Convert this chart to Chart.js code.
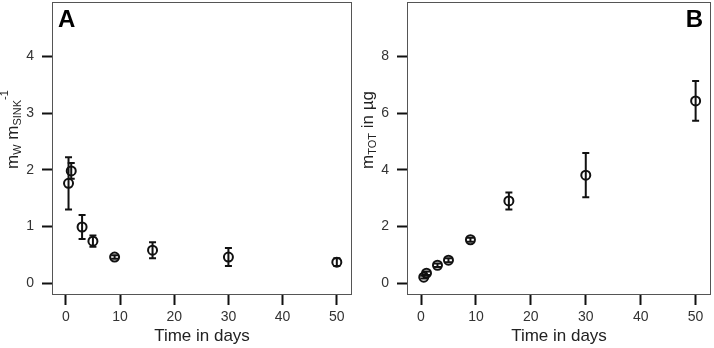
<!DOCTYPE html>
<html>
<head>
<meta charset="utf-8">
<script src="https://cdn.jsdelivr.net/npm/chart.js@4"></script>
<style>
  body { margin: 0; background: #fff; }
  #wrap { position: relative; width: 714px; height: 348px; }
  #chartA { position: absolute; left: 0; top: 0; }
  #chartB { position: absolute; left: 355px; top: 0; }
</style>
</head>
<body>
<div id="wrap">
  <canvas id="chartA" width="357" height="348"></canvas>
  <canvas id="chartB" width="359" height="348"></canvas>
</div>
<script>
const days = [0.5, 1, 3, 5, 9, 16, 30, 50];

const ratioA = [1.76, 1.98, 0.99, 0.74, 0.46, 0.58, 0.46, 0.37];
const ratioErrA = [0.46, 0.14, 0.21, 0.1, 0.03, 0.14, 0.16, 0.07];

const massB = [0.21, 0.35, 0.63, 0.81, 1.53, 2.9, 3.81, 6.43];
const massErrB = [0.05, 0.06, 0.06, 0.07, 0.07, 0.3, 0.78, 0.7];

const xTicks = [0, 10, 20, 30, 40, 50];
const yTicksA = [0, 1, 2, 3, 4];
const yTicksB = [0, 2, 4, 6, 8];

const fontFamily = "'Liberation Sans', Arial, Helvetica, sans-serif";
const markColor = "#111";

function toPoints(xs, ys) {
  return xs.map((x, i) => ({ x: x, y: ys[i] }));
}

function noPadding(s) {
  s.paddingTop = 0;
  s.paddingBottom = 0;
  s.paddingLeft = 0;
  s.paddingRight = 0;
}

// error bars drawn over the markers, line goes through the circle
function errorBarPlugin(errs) {
  return {
    id: "errorBars",
    afterDatasetsDraw(chart) {
      const ctx = chart.ctx;
      const xs = chart.scales.x;
      const ys = chart.scales.y;
      const data = chart.data.datasets[0].data;
      ctx.save();
      ctx.strokeStyle = markColor;
      ctx.lineWidth = 2;
      data.forEach((p, i) => {
        const px = xs.getPixelForValue(p.x);
        const top = ys.getPixelForValue(p.y + errs[i]);
        const bot = ys.getPixelForValue(p.y - errs[i]);
        ctx.beginPath();
        ctx.moveTo(px, top);
        ctx.lineTo(px, bot);
        ctx.moveTo(px - 3.5, top);
        ctx.lineTo(px + 3.5, top);
        ctx.moveTo(px - 3.5, bot);
        ctx.lineTo(px + 3.5, bot);
        ctx.stroke();
      });
      ctx.restore();
    },
  };
}

// frame, panel letter and the y title with sub/superscripts
function decorPlugin(letter, letterRight, titleParts) {
  return {
    id: "decor",
    afterDraw(chart) {
      const ctx = chart.ctx;
      const a = chart.chartArea;
      ctx.save();
      ctx.strokeStyle = "#555";
      ctx.lineWidth = 1;
      ctx.strokeRect(a.left + 0.5, a.top + 0.5, a.right - a.left - 1, a.bottom - a.top - 1);

      ctx.fillStyle = "#000";
      ctx.font = "bold 24px " + fontFamily;
      ctx.textBaseline = "alphabetic";
      if (letterRight) {
        ctx.textAlign = "right";
        ctx.fillText(letter, a.right - 8, 27);
      } else {
        ctx.textAlign = "left";
        ctx.fillText(letter, a.left + 6, 27);
      }

      ctx.translate(17.5, 169);
      ctx.rotate(-Math.PI / 2);
      ctx.textAlign = "left";
      ctx.fillStyle = "#222";
      let pos = 0;
      titleParts.forEach((part) => {
        ctx.font = part.size + "px " + fontFamily;
        ctx.fillText(part.text, pos, part.dy);
        pos += ctx.measureText(part.text).width;
      });
      ctx.restore();
    },
  };
}

function makeChart(id, values, errs, yTicks, yMin, yMax, rightPad, letter, letterRight, titleParts) {
  return new Chart(document.getElementById(id), {
    type: "scatter",
    data: {
      datasets: [
        {
          data: toPoints(days, values),
          pointStyle: "circle",
          pointRadius: 4.5,
          pointBorderWidth: 2,
          pointBorderColor: markColor,
          pointBackgroundColor: "rgba(0,0,0,0)",
        },
      ],
    },
    options: {
      responsive: false,
      animation: false,
      events: [],
      layout: { autoPadding: false, padding: { top: 2, right: rightPad, bottom: 0, left: 0 } },
      plugins: { legend: { display: false }, tooltip: { enabled: false } },
      scales: {
        x: {
          type: "linear",
          min: -2.55,
          max: 52.8,
          afterBuildTicks: (s) => { s.ticks = xTicks.map((v) => ({ value: v })); },
          afterFit: (s) => { s.height = 53; noPadding(s); },
          border: { display: false },
          grid: { drawOnChartArea: false, tickLength: 10, tickWidth: 2, tickColor: markColor },
          ticks: { padding: 4, color: "#333", font: { family: fontFamily, size: 14 } },
          title: {
            display: true,
            text: "Time in days",
            color: "#222",
            font: { family: fontFamily, size: 17 },
            padding: { top: 0, bottom: 1 },
          },
        },
        y: {
          type: "linear",
          min: yMin,
          max: yMax,
          afterBuildTicks: (s) => { s.ticks = yTicks.map((v) => ({ value: v })); },
          afterFit: (s) => { s.width = 52; noPadding(s); },
          border: { display: false },
          grid: { drawOnChartArea: false, tickLength: 10, tickWidth: 2, tickColor: markColor },
          ticks: { padding: 8, color: "#333", font: { family: fontFamily, size: 14 } },
        },
      },
    },
    plugins: [errorBarPlugin(errs), decorPlugin(letter, letterRight, titleParts)],
  });
}

makeChart("chartA", ratioA, ratioErrA, yTicksA, -0.21, 4.96, 5, "A", false, [
  { text: "m", size: 17, dy: 0 },
  { text: "W", size: 11, dy: 3 },
  { text: " m", size: 17, dy: 0 },
  { text: "SINK", size: 11, dy: 3 },
  { text: "-1", size: 11, dy: -10 },
]);

makeChart("chartB", massB, massErrB, yTicksB, -0.42, 9.92, 3, "B", true, [
  { text: "m", size: 17, dy: 0 },
  { text: "TOT", size: 11, dy: 3 },
  { text: " in µg", size: 17, dy: 0 },
]);
</script>
</body>
</html>
